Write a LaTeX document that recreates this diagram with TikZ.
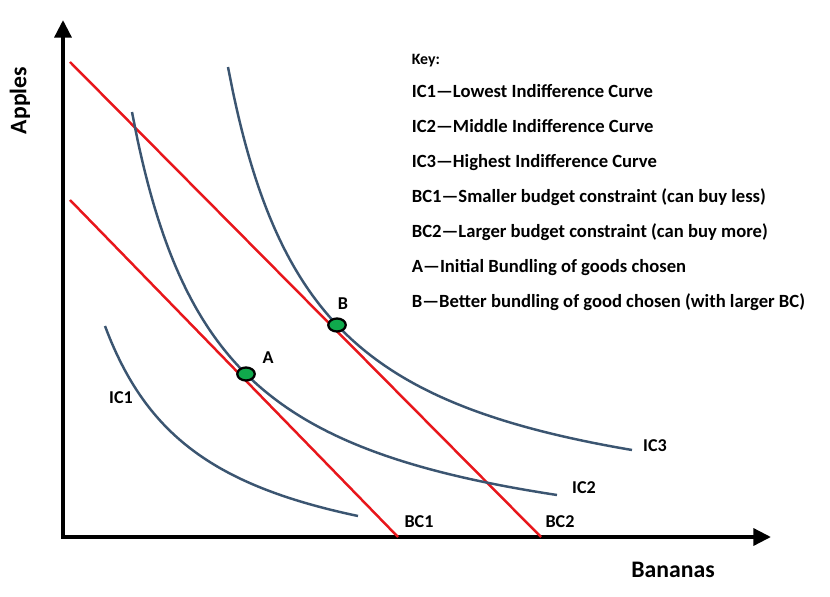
\documentclass[tikz,border=0pt]{standalone}
\usepackage{fontspec}
\setmainfont{Carlito}
\usetikzlibrary{arrows.meta,shapes.geometric}
\definecolor{bcred}{HTML}{E8161B}
\definecolor{icblue}{HTML}{3B5571}
\definecolor{dotgreen}{HTML}{10A94C}

\begin{document}
\begin{tikzpicture}[x=0.02cm,y=-0.02cm,
	axis/.style={line width=2.3pt,{Triangle[length=10pt,width=9.5pt]}-{Triangle[length=10pt,width=9.5pt]}},
	bc/.style={line width=1.4pt,bcred},
	ic/.style={line width=1.4pt,icblue,samples=80,smooth},
	dot/.style={ellipse,draw,line width=1.3pt,fill=dotgreen,minimum width=0.35cm,minimum height=0.26cm,inner sep=0pt},
	lbl/.style={font=\bfseries\fontsize{10.3}{12}\selectfont},
	keytxt/.style={font=\bfseries\fontsize{10.6}{13}\selectfont,anchor=base west,inner sep=0pt},
	axtxt/.style={font=\bfseries\fontsize{13.5}{15}\selectfont}]
			\useasboundingbox[fill=white] (0,0) rectangle (830,597);
			% axes
			\coordinate (O) at (63,537);
			\coordinate (ytip) at (63,20);
			\coordinate (xtip) at (771,537);
			\draw[axis] (ytip) |- (xtip);
			\node[axtxt,rotate=90] (ylab) at (20,100.5) {Apples};
			\node[axtxt,anchor=base west,inner sep=0pt] (xlab) at (631,577) {Bananas};
			% budget constraints
			\coordinate (bc1top) at (70,200); \coordinate (bc1end) at (398,537);
			\coordinate (bc2top) at (70,62);  \coordinate (bc2end) at (541,537);
			\draw[bc] (bc1top) -- (bc1end);
			\draw[bc] (bc2top) -- (bc2end);
			% indifference curves, (X-a)(Y-b)=k measured from O
			\draw[ic,domain=42:295] plot ({63+\x},{537-(-53.2+261.03/((\x+56.8)/100))});
			\draw[ic,domain=69:494] plot ({63+\x},{537-(-36.05+399.30/((\x+17.61)/100))});
			\draw[ic,domain=165:569] plot ({63+\x},{537-(3.49+410.97/((\x-76.9)/100))});
			% bundles
			\node[dot] (ptA) at (246,374) {};
			\node[dot] (ptB) at (337,325) {};
			\node[lbl] (labA) at (268,358) {A};
			\node[lbl] (labB) at (343,304) {B};
			\node[lbl] (ic1) at (121,398) {IC1};
			\node[lbl] (ic2) at (584,488) {IC2};
			\node[lbl] (ic3) at (655,446) {IC3};
			\node[lbl] (bc1) at (419,521.5) {BC1};
			\node[lbl] (bc2) at (560,521.5) {BC2};
			% key
			\node[keytxt,font=\bfseries\fontsize{9}{11}\selectfont] (key0) at (411.5,65) {Key:};
			\foreach \i/\t in {1/IC1---Lowest Indifference Curve,
				2/IC2---Middle Indifference Curve,
				3/IC3---Highest Indifference Curve,
				4/BC1---Smaller budget constraint (can buy less),
				5/BC2---Larger budget constraint (can buy more),
				6/A---Initial Bundling of goods chosen,
				7/B---Better bundling of good chosen (with larger BC)}{
				\node[keytxt] (key\i) at (411.5,{62.3+35*\i}) {\t};
			}
		\end{tikzpicture}
\end{document}
